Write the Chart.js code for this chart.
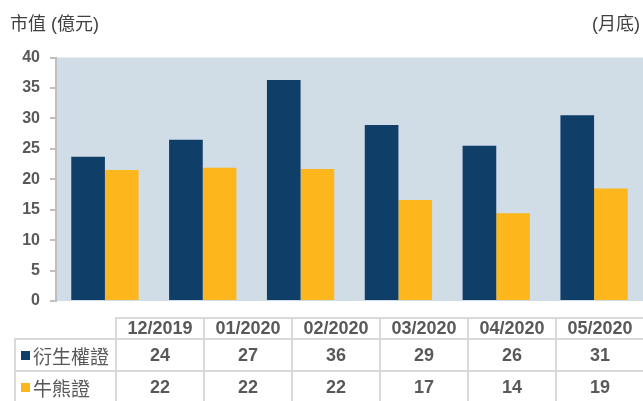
<!DOCTYPE html>
<html>
<head>
<meta charset="utf-8">
<script src="https://cdn.jsdelivr.net/npm/chart.js@4.4.1/dist/chart.umd.min.js"></script>
<style>
  body { margin: 0; background: #fff; }
  #wrap { position: relative; width: 643px; height: 401px; overflow: hidden; }
  #chart { position: absolute; left: 0; top: 0; }
  .title { position: absolute; top: 15px; font-size: 18px; line-height: 18px; color: #404040;
           font-family: "Liberation Sans", "Noto Sans CJK TC", sans-serif; white-space: nowrap; }
  .cell { position: absolute; box-sizing: border-box; border: 2px solid #d9d9d9;
          display: flex; align-items: center; justify-content: center;
          font: bold 18px "Liberation Sans", Arial, sans-serif; color: #595959; }
  .cell.label { justify-content: flex-start; padding-left: 5px; font-weight: normal; font-size: 19px;
                font-family: "Noto Sans CJK TC", sans-serif; }
  .mark { display: inline-block; width: 9px; height: 9px; margin-right: 3px; }
</style>
</head>
<body>
<div id="wrap">
  <canvas id="chart" width="643" height="401"></canvas>
  <div class="title" style="left:10px">市值 (億元)</div>
  <div class="title" style="right:3px">(月底)</div>
  <div id="table"></div>
</div>
<script>
'use strict';

// data
const categories = ['12/2019', '01/2020', '02/2020', '03/2020', '04/2020', '05/2020'];
const seriesNames = ['衍生權證', '牛熊證'];
const warrants = [23.7, 26.5, 36.3, 28.9, 25.5, 30.5];
const cbbcs = [21.5, 21.9, 21.7, 16.6, 14.4, 18.5];
const yMax = 40;
const yStep = 5;

const colors = ['#0f3e69', '#fdb71c'];

/**
 * plot background
 */
const plotBg = {
  id: 'plotBg',
  beforeDraw(chart) {
    const a = chart.chartArea;
    const ctx = chart.ctx;
    ctx.save();
    ctx.fillStyle = '#d0dde7';
    ctx.fillRect(a.left, a.top, a.right - a.left, a.bottom - a.top);
    ctx.restore();
  }
};

const ctx = document.getElementById('chart').getContext('2d');
new Chart(ctx, {
  type: 'bar',
  data: {
    labels: categories,
    datasets: [
      { label: seriesNames[0], data: warrants, backgroundColor: colors[0] },
      { label: seriesNames[1], data: cbbcs, backgroundColor: colors[1] }
    ]
  },
  options: {
    responsive: false,
    animation: false,
    categoryPercentage: 0.688,
    barPercentage: 1,
    layout: { padding: { top: 57.5, bottom: 100, left: 0, right: 0 } },
    plugins: { legend: { display: false }, tooltip: { enabled: false } },
    scales: {
      x: { display: false },
      y: {
        min: 0,
        max: yMax,
        ticks: {
          stepSize: yStep,
          color: '#595959',
          padding: 10,
          font: { family: 'Liberation Sans', size: 16, weight: 'bold' }
        },
        grid: { drawOnChartArea: false, tickLength: 6, color: '#bfbfbf', lineWidth: 2 },
        border: { color: '#bfbfbf', width: 2 },
        afterFit(scale) { scale.width = 56; }
      }
    }
  },
  plugins: [plotBg]
});

/**
 * data table under the chart
 */
const table = document.getElementById('table');
const colX = 116, colW = 88, labelX = 15;
const rowY = [318, 339, 371, 403];

function addCell(x, y, w, h, html, cls) {
  const d = document.createElement('div');
  d.className = 'cell' + (cls ? ' ' + cls : '');
  d.style.left = (x - 1) + 'px';
  d.style.top = (y - 1) + 'px';
  d.style.width = (w + 2) + 'px';
  d.style.height = (h + 2) + 'px';
  d.innerHTML = html;
  table.appendChild(d);
}

categories.forEach(function (c, i) {
  addCell(colX + i * colW, rowY[0], colW, rowY[1] - rowY[0], c);
});

[warrants, cbbcs].forEach(function (values, r) {
  const y = rowY[r + 1], h = rowY[r + 2] - rowY[r + 1];
  addCell(labelX, y, colX - labelX, h,
    '<span class="mark" style="background:' + colors[r] + '"></span>' + seriesNames[r], 'label');
  values.forEach(function (v, i) {
    addCell(colX + i * colW, y, colW, h, String(Math.round(v)));
  });
});
</script>
</body>
</html>
